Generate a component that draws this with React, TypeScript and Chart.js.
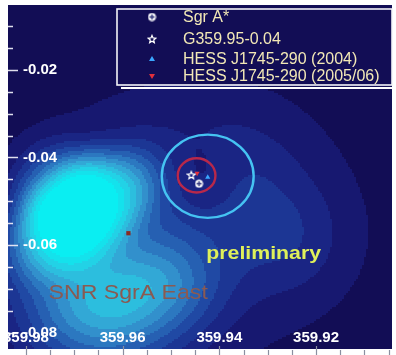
import React, { useEffect, useRef } from 'react';
import { Chart, registerables } from 'chart.js';

Chart.register(...registerables);

// Axis ticks (galactic longitude, latitude in degrees)
const xTicks = [359.98, 359.96, 359.94, 359.92];
const xTickLabels = ['359.98', '359.96', '359.94', '359.92'];
const yTicks = [-0.02, -0.04, -0.06, -0.08];
const yTickLabels = ['-0.02', '-0.04', '-0.06', '-0.08'];
const minorStep = 0.005;
const xRange = [359.9045, 359.9837];
const yRange = [-0.0835, -0.0052];

// Legend / series
const seriesLabels = ['Sgr A*', 'G359.95-0.04', 'HESS J1745-290 (2004)', 'HESS J1745-290 (2005/06)'];
const sgrAPos = [{ x: 359.9442, y: -0.046 }];
const g35995Pos = [{ x: 359.9458, y: -0.044 }];
const hess2004Pos = [{ x: 359.9424, y: -0.0445 }];
const hess2005Pos = [{ x: 359.9446, y: -0.0436 }];
const snrMarkerPos = [{ x: 359.9588, y: -0.0573 }];

// Error circles: centre (l, b) and radius in degrees
const circleL = [359.9424, 359.9447];
const circleB = [-0.0443, -0.0441];
const circleR = [0.0095, 0.0039];
const circleColors = ['#45c3f2', '#b8284a'];

// Emission map components: centre (l, b), widths (deg), orientation (deg), profile power, amplitude
const compL = [359.96898, 359.97306, 359.9649, 359.9384, 359.9445, 359.9251, 359.9496, 359.9547, 359.95061];
const compB = [-0.05288, -0.0474, -0.07365, -0.0451, -0.0447, -0.0588, -0.0554, -0.0463, -0.06795];
const compSig1 = [0.0128, 0.00776, 0.01122, 0.01102, 0.00571, 0.00816, 0.02857, 0.00612, 0.00816];
const compSig2 = [0.0081, 0.00868, 0.01027, 0.01142, 0.00639, 0.00913, 0.02511, 0.00685, 0.00799];
const compAngle = [136.2, 0, 0, 0, 0, 0, 0, 0, 0];
const compPow = [3, 3, 2, 2, 2, 2, 2, 2, 2];
const compAmp = [0.78, 0.3, 0.58, 0.12, -0.12, 0.11, 0.16, 0.1, 0.24];

const levelColors = [
  '#120d55', '#171870', '#1a2584', '#1c3694', '#2049a4', '#2660b2', '#2c78c0',
  '#3290cc', '#32a8d6', '#2cbede', '#22d2e6', '#14e2ec', '#0aeef2',
];

// Annotations
const annotations = [
  { text: 'preliminary', l: 359.9427, b: -0.062, font: 'bold 19px "Liberation Sans", Arial, sans-serif', color: '#dff05a', sx: 1.12 },
  { text: 'SNR SgrA East', l: 359.9753, b: -0.0709, font: '21px "Liberation Sans", Arial, sans-serif', color: '#8a5a52', sx: 1.1 },
];

function makeSgrA(): HTMLCanvasElement {
  const c = document.createElement('canvas');
  c.width = 9; c.height = 9;
  const g = c.getContext('2d')!;
  g.fillStyle = '#ffffff';
  g.beginPath(); g.arc(4.5, 4.5, 3.9, 0, Math.PI * 2); g.fill();
  g.strokeStyle = '#2a2f7a'; g.lineWidth = 1.4;
  g.beginPath(); g.moveTo(4.5, 2); g.lineTo(4.5, 7); g.moveTo(2, 4.5); g.lineTo(7, 4.5); g.stroke();
  return c;
}

function makeStar(): HTMLCanvasElement {
  const c = document.createElement('canvas');
  c.width = 10; c.height = 10;
  const g = c.getContext('2d')!;
  g.strokeStyle = '#ffffff'; g.lineWidth = 1.2;
  g.beginPath();
  for (let i = 0; i < 10; i++) {
    const r = i % 2 === 0 ? 4 : 1.8;
    const a = -Math.PI / 2 + (i * Math.PI) / 5;
    const px = 5 + r * Math.cos(a), py = 5.4 + r * Math.sin(a);
    if (i === 0) g.moveTo(px, py); else g.lineTo(px, py);
  }
  g.closePath(); g.stroke();
  return c;
}

function drawStretched(ctx: CanvasRenderingContext2D, text: string, x: number, y: number, sx: number) {
  ctx.save();
  ctx.translate(x, y);
  ctx.scale(sx, 1);
  ctx.fillText(text, 0, 0);
  ctx.restore();
}

const mapPlugin = {
  id: 'hessMap',
  beforeDraw(chart: any) {
    const { ctx, chartArea: a, scales } = chart;
    const xs = scales.x, ys = scales.y;
    ctx.save();
    ctx.fillStyle = '#ffffff';
    ctx.fillRect(0, 0, chart.width, chart.height);
    const step = 2;
    const n = levelColors.length;
    const cosA = compAngle.map((d) => Math.cos((d * Math.PI) / 180));
    const sinA = compAngle.map((d) => Math.sin((d * Math.PI) / 180));
    for (let py = a.top; py < a.bottom; py += step) {
      const b = ys.getValueForPixel(py + step / 2);
      for (let px = a.left; px < a.right; px += step) {
        const l = xs.getValueForPixel(px + step / 2);
        let I = 0;
        for (let k = 0; k < compL.length; k++) {
          const dl = l - compL[k];
          const db = b - compB[k];
          const u = (dl * cosA[k] + db * sinA[k]) / compSig1[k];
          const v = (-dl * sinA[k] + db * cosA[k]) / compSig2[k];
          const r2 = u * u + v * v;
          I += compAmp[k] * Math.exp(-0.5 * Math.pow(r2, compPow[k] / 2));
        }
        const lev = Math.max(0, Math.min(n - 1, Math.floor(I * n)));
        ctx.fillStyle = levelColors[lev];
        ctx.fillRect(px, py, step, step);
      }
    }
    ctx.restore();
  },
  beforeDatasetsDraw(chart: any) {
    const { ctx, scales } = chart;
    const xs = scales.x, ys = scales.y;
    ctx.save();
    for (let i = 0; i < circleL.length; i++) {
      const cx = xs.getPixelForValue(circleL[i]);
      const cy = ys.getPixelForValue(circleB[i]);
      const rx = Math.abs(xs.getPixelForValue(circleL[i] + circleR[i]) - cx);
      const ry = Math.abs(ys.getPixelForValue(circleB[i] + circleR[i]) - cy);
      ctx.strokeStyle = circleColors[i];
      ctx.lineWidth = 2.4;
      ctx.beginPath();
      ctx.ellipse(cx, cy, rx, ry, 0, 0, Math.PI * 2);
      ctx.stroke();
    }
    ctx.restore();
  },
  afterDatasetsDraw(chart: any) {
    const { ctx, chartArea: a, scales } = chart;
    const xs = scales.x, ys = scales.y;
    ctx.save();
    // annotations
    ctx.textBaseline = 'middle';
    ctx.textAlign = 'left';
    for (const t of annotations) {
      ctx.font = t.font;
      ctx.fillStyle = t.color;
      drawStretched(ctx, t.text, xs.getPixelForValue(t.l), ys.getPixelForValue(t.b), t.sx);
    }
    // y ticks (left, inside)
    ctx.strokeStyle = 'rgba(235,235,245,0.95)';
    ctx.lineWidth = 1.5;
    for (let v = -0.005; v >= yRange[0]; v -= minorStep) {
      const y = Math.round(ys.getPixelForValue(v)) + 0.5;
      if (y < a.top || y > a.bottom) continue;
      const major = yTicks.some((t) => Math.abs(t - v) < 1e-6);
      ctx.beginPath();
      ctx.moveTo(a.left, y);
      ctx.lineTo(a.left + (major ? 10 : 5), y);
      ctx.stroke();
    }
    // x ticks (bottom, below map)
    ctx.strokeStyle = '#8a8fa0';
    ctx.lineWidth = 1.2;
    for (let v = 359.995; v >= xRange[0]; v -= minorStep) {
      const x = Math.round(xs.getPixelForValue(v)) + 0.5;
      if (x < a.left || x > a.right) continue;
      const major = xTicks.some((t) => Math.abs(t - v) < 1e-6);
      ctx.beginPath();
      ctx.moveTo(x, major ? a.bottom - 2 : a.bottom + 2);
      ctx.lineTo(x, chart.height);
      ctx.stroke();
    }
    // tick labels
    ctx.save();
    ctx.beginPath();
    ctx.rect(a.left, a.top, a.right - a.left, a.bottom - a.top);
    ctx.clip();
    ctx.fillStyle = '#ffffff';
    ctx.font = 'bold 15px "Liberation Sans", Arial, sans-serif';
    ctx.textAlign = 'center';
    ctx.textBaseline = 'middle';
    xTicks.forEach((v, i) => {
      ctx.fillText(xTickLabels[i], xs.getPixelForValue(v), a.bottom - 10);
    });
    ctx.textAlign = 'left';
    yTicks.forEach((v, i) => {
      ctx.fillText(yTickLabels[i], a.left + 15, ys.getPixelForValue(v));
    });
    ctx.restore();

    // legend box
    const bx = 117, by = 9, bw = 275, bh = 76;
    ctx.fillStyle = '#ffffff';
    ctx.fillRect(bx + 4, by + bh + 2, bw, 2);
    ctx.fillStyle = levelColors[0];
    ctx.fillRect(bx, by, bw, bh);
    ctx.strokeStyle = '#f4f4f8';
    ctx.lineWidth = 1.6;
    ctx.strokeRect(bx, by, bw, bh);
    const rows = [17, 39, 59, 76];
    const mx = 152;
    const datasets = chart.data.datasets;
    ctx.font = '16px "Liberation Sans", Arial, sans-serif';
    ctx.textBaseline = 'middle';
    ctx.textAlign = 'left';
    for (let i = 0; i < 4; i++) {
      const ds = datasets[i];
      const ry = rows[i];
      const ps = ds.pointStyle;
      if (ps instanceof HTMLCanvasElement) {
        ctx.drawImage(ps, mx - ps.width / 2, ry - ps.height / 2);
      } else {
        ctx.fillStyle = ds.backgroundColor;
        ctx.beginPath();
        const s = 3;
        if (ds.rotation === 180) {
          ctx.moveTo(mx - s, ry - s * 0.7); ctx.lineTo(mx + s, ry - s * 0.7); ctx.lineTo(mx, ry + s);
        } else {
          ctx.moveTo(mx - s, ry + s * 0.7); ctx.lineTo(mx + s, ry + s * 0.7); ctx.lineTo(mx, ry - s);
        }
        ctx.closePath();
        ctx.fill();
      }
      ctx.fillStyle = '#f2e8b6';
      ctx.fillText(seriesLabels[i], 183, ry + 1);
    }
    ctx.restore();
  },
};

export default function App() {
  const ref = useRef<HTMLCanvasElement | null>(null);
  useEffect(() => {
    if (!ref.current) return;
    const sgrImg = makeSgrA();
    const starImg = makeStar();
    const chart = new Chart(ref.current, {
      type: 'scatter',
      data: {
        datasets: [
          { label: seriesLabels[0], data: sgrAPos, pointStyle: sgrImg as any, backgroundColor: '#ffffff', borderColor: '#ffffff', pointRadius: 4 },
          { label: seriesLabels[1], data: g35995Pos, pointStyle: starImg as any, backgroundColor: '#ffffff', borderColor: '#ffffff', pointRadius: 4 },
          { label: seriesLabels[2], data: hess2004Pos, pointStyle: 'triangle', backgroundColor: '#3aa6ff', borderColor: '#3aa6ff', pointRadius: 3, borderWidth: 0 },
          { label: seriesLabels[3], data: hess2005Pos, pointStyle: 'triangle', rotation: 180, backgroundColor: '#e0303c', borderColor: '#e0303c', pointRadius: 3, borderWidth: 0 } as any,
          { label: 'SNR', data: snrMarkerPos, pointStyle: 'rect', backgroundColor: '#8a2a22', borderColor: '#8a2a22', pointRadius: 3, borderWidth: 0 },
        ],
      },
      options: {
        responsive: false,
        animation: false,
        devicePixelRatio: 1,
        layout: { padding: { left: 8, top: 5, right: 0, bottom: 7 } },
        plugins: { legend: { display: false }, tooltip: { enabled: false } },
        scales: {
          x: { type: 'linear', reverse: true, min: xRange[0], max: xRange[1], display: false },
          y: { type: 'linear', min: yRange[0], max: yRange[1], display: false },
        },
      },
      plugins: [mapPlugin],
    });
    return () => chart.destroy();
  }, []);
  return (
    <div style={{ position: 'absolute', left: 0, top: 0, width: 396, height: 355 }}>
      <canvas ref={ref} width={396} height={355} style={{ display: 'block' }} />
    </div>
  );
}
